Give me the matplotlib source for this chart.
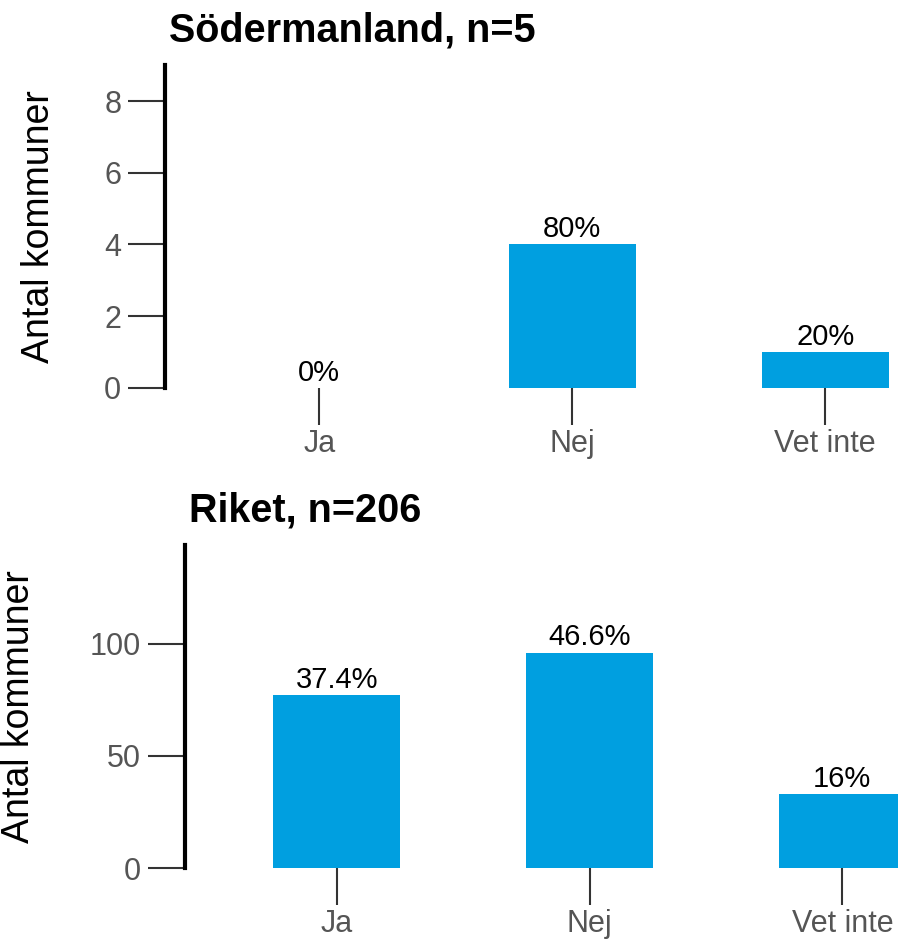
import matplotlib
matplotlib.use("Agg")
import matplotlib.pyplot as plt

plt.rcParams['font.family'] = ['Liberation Sans', 'DejaVu Sans']

categories = ["Ja", "Nej", "Vet inte"]

sod_counts = [0, 4, 1]
sod_labels = ["0%", "80%", "20%"]
sod_title = "Södermanland, n=5"
sod_yticks = [0, 2, 4, 6, 8]

riket_counts = [77, 96, 33]
riket_labels = ["37.4%", "46.6%", "16%"]
riket_title = "Riket, n=206"
riket_yticks = [0, 50, 100]

bar_color = "#009fe0"

fig = plt.figure(figsize=(8.98, 9.44), dpi=100)

# axes rectangles in figure coords (left, bottom, width, height)
ax1 = fig.add_axes([0.1837, 0.589, 0.817, 0.342])
ax2 = fig.add_axes([0.206, 0.0805, 0.794, 0.342])


def draw(ax, counts, labels, title, yticks, ylim, xlim, labelpad):
    x = range(len(categories))
    bars = ax.bar(x, counts, width=0.5, color=bar_color)
    ax.bar_label(bars, labels=labels, padding=1, fontsize=21, color="black")
    ax.set_xlim(*xlim)
    ax.set_ylim(*ylim)
    ax.set_xticks(list(x))
    ax.set_xticklabels(categories)
    ax.set_yticks(yticks)
    for s in ["top", "right", "bottom"]:
        ax.spines[s].set_visible(False)
    ax.spines["left"].set_linewidth(3)
    ax.spines["left"].set_color("black")
    ax.tick_params(axis="both", direction="out", length=26.5, width=1.5,
                   color="#333333", labelcolor="#555555", labelsize=22)
    ax.tick_params(axis="x", pad=3)
    ax.tick_params(axis="y", pad=5)
    ax.set_ylabel("Antal kommuner", fontsize=27, color="black", labelpad=labelpad)
    ax.set_title(title, loc="left", fontsize=28.5, fontweight="bold", pad=17,
                 x=0.006)


draw(ax1, sod_counts, sod_labels, sod_title, sod_yticks, (0, 9), (-0.61, 2.29), 34)
draw(ax2, riket_counts, riket_labels, riket_title, riket_yticks, (0, 144), (-0.6, 2.22), 38)

fig.savefig("out.png", dpi=100)
